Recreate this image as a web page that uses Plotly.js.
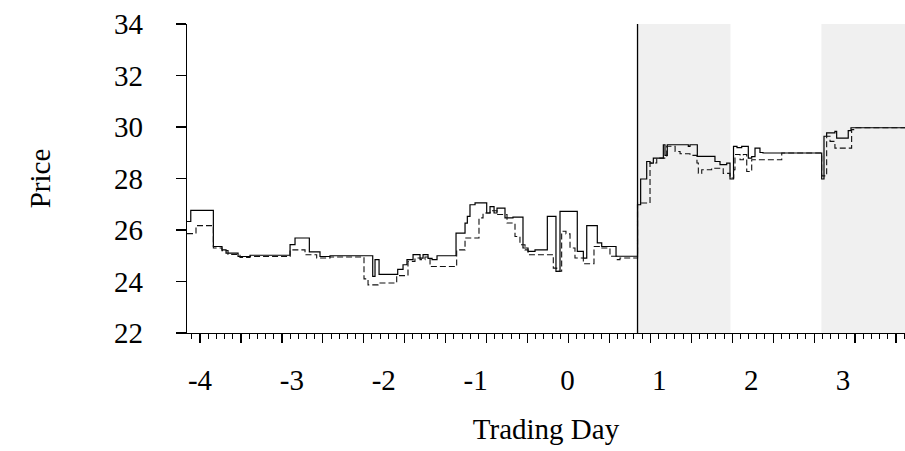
<!DOCTYPE html>
<html>
<head>
<meta charset="utf-8">
<script src="https://cdn.plot.ly/plotly-3.0.1.min.js"></script>
<style>html,body{margin:0;padding:0;background:#fff}#chart{width:905px;height:451px}</style>
</head>
<body>
<div id="chart"></div>
<script>
// Trading-day time (day units) and prices
var solidDay = [-4.142,-4.101,-3.855,-3.761,-3.717,-3.586,-3.456,-3.020,-2.966,-2.810,-2.694,-2.585,
  -2.120,-2.095,-2.051,-1.848,-1.790,-1.747,-1.681,-1.605,-1.572,-1.518,-1.474,-1.420,-1.213,-1.115,
  -1.090,-1.061,-1.006,-0.879,-0.843,-0.799,-0.767,-0.680,-0.593,-0.484,-0.429,-0.353,-0.219,-0.125,
  -0.081,0.107,0.173,0.210,0.325,0.373,0.529,0.763,0.797,0.863,0.899,0.935,1.044,1.062,1.087,1.316,
  1.334,1.414,1.606,1.661,1.734,1.770,1.808,1.846,1.897,1.969,2.006,2.042,2.096,2.129,2.768,2.793,
  2.822,2.912,2.931,3.057,3.087,3.675];
var solidPrice = [26.33,26.76,25.36,25.23,25.10,24.97,25.02,25.43,25.69,25.15,24.97,25.00,
  24.20,24.85,24.28,24.47,24.65,24.85,25.04,24.91,25.04,24.90,24.85,25.00,25.88,26.27,
  26.53,26.98,27.05,26.66,26.91,26.66,26.85,26.47,26.50,25.30,25.17,25.23,26.53,24.39,
  26.72,25.17,24.91,26.17,25.50,25.36,24.98,26.98,27.98,28.66,28.60,28.79,29.31,28.90,29.31,29.25,
  29.31,28.86,28.66,28.54,28.60,27.98,29.25,29.20,29.25,28.79,28.85,29.18,29.01,28.99,27.98,29.64,
  29.77,29.83,29.57,29.86,29.97,29.97];

var dashDay = [-4.142,-4.044,-3.855,-3.761,-3.695,-3.565,-3.456,-3.020,-2.857,-2.730,-2.585,-2.215,
  -2.171,-2.062,-1.859,-1.736,-1.660,-1.605,-1.551,-1.496,-1.206,-1.115,-0.963,-0.919,-0.843,-0.767,
  -0.658,-0.571,-0.517,-0.462,-0.429,-0.154,-0.117,-0.063,-0.016,0.028,0.082,0.173,0.289,0.354,0.463,
  0.536,0.572,0.763,0.899,0.972,1.081,1.172,1.226,1.334,1.410,1.425,1.462,1.570,1.696,1.770,1.810,
  1.824,1.879,1.915,1.952,2.006,2.333,2.768,2.822,2.859,2.912,3.094,3.130,3.675];
var dashPrice = [25.86,26.17,25.30,25.20,25.05,24.93,24.97,25.23,25.04,24.91,24.95,24.10,
  23.87,23.94,24.23,24.78,24.91,24.85,24.95,24.58,25.23,25.69,26.47,26.66,26.75,26.60,
  26.27,25.75,25.43,25.23,25.04,24.52,24.40,25.95,25.85,25.30,24.91,24.69,25.36,25.30,24.98,
  24.85,24.91,27.05,28.60,28.79,29.25,29.05,28.96,28.90,28.60,28.20,28.34,28.40,28.20,28.02,28.34,
  28.93,28.73,28.93,28.27,28.73,28.99,28.10,29.64,29.44,29.18,29.90,29.97,29.97];

var dayLabels = [-4,-3,-2,-1,0,1,2,3];
var eventDay = 0.763;
var shadedStart = [0.763, 2.765];
var shadedEnd = [1.775, 3.675];
var xRange = [-4.142, 3.675];
var yTicks = [22,24,26,28,30,32,34];

var FONT = 'Liberation Serif, Times New Roman, serif';
var FS = 29;

var traces = [
  {x: solidDay, y: solidPrice, type: 'scatter', mode: 'lines', line: {shape: 'hv', color: '#000', width: 1.2}, hoverinfo: 'skip'},
  {x: dashDay, y: dashPrice, type: 'scatter', mode: 'lines', line: {shape: 'hv', color: '#111', width: 1.1, dash: '6px,3px'}, hoverinfo: 'skip'},
  {x: xRange, y: [null, null], xaxis: 'x2', yaxis: 'y', type: 'scatter', mode: 'lines', showlegend: false, hoverinfo: 'skip'}
];

var shapes = [];
for (var i = 0; i < shadedStart.length; i++) {
  shapes.push({type: 'rect', xref: 'x', yref: 'paper', x0: shadedStart[i], x1: shadedEnd[i], y0: 0, y1: 1,
    fillcolor: '#f0f0f0', line: {width: 0}, layer: 'below'});
}
shapes.push({type: 'line', xref: 'x', yref: 'paper', x0: eventDay, x1: eventDay, y0: 0, y1: 1,
  line: {color: '#000', width: 1.3}});

var layout = {
  width: 905, height: 451,
  margin: {l: 187, r: 0, t: 24, b: 118, pad: 0},
  paper_bgcolor: '#fff', plot_bgcolor: 'rgba(0,0,0,0)',
  showlegend: false,
  font: {family: FONT, size: FS, color: '#000'},
  xaxis: {
    range: xRange, autorange: false, showgrid: false, zeroline: false,
    showline: true, linecolor: '#000', linewidth: 1.3,
    tickmode: 'array', tickvals: dayLabels, ticktext: dayLabels.map(function(d){return String(d);}),
    ticks: '', ticklabelstandoff: 21,
    tickfont: {family: FONT, size: FS, color: '#000'},
    title: {text: 'Trading Day', font: {family: FONT, size: FS, color: '#000'}, standoff: 23}
  },
  xaxis2: {
    overlaying: 'x', anchor: 'y', side: 'bottom',
    range: xRange, autorange: false, showgrid: false, zeroline: false, showline: false,
    tickmode: 'linear', tick0: -4, dtick: 0.4457,
    ticks: 'outside', ticklen: 9, tickwidth: 1.2, tickcolor: '#000', showticklabels: false,
    minor: {tickmode: 'linear', tick0: -4, dtick: 0.08914, ticks: 'outside', ticklen: 5, tickwidth: 1, tickcolor: '#000', showgrid: false}
  },
  yaxis: {
    range: [22, 34], autorange: false, showgrid: false, zeroline: false,
    showline: true, linecolor: '#000', linewidth: 1.3,
    tickmode: 'array', tickvals: yTicks, ticktext: yTicks.map(String),
    ticks: 'outside', ticklen: 10, tickwidth: 1.2, tickcolor: '#000',
    ticklabelstandoff: 27,
    tickfont: {family: FONT, size: FS, color: '#000'},
    title: {text: 'Price', font: {family: FONT, size: FS, color: '#000'}, standoff: 54}
  },
  shapes: shapes
};

Plotly.newPlot('chart', traces, layout, {staticPlot: true, displayModeBar: false});
</script>
</body>
</html>
